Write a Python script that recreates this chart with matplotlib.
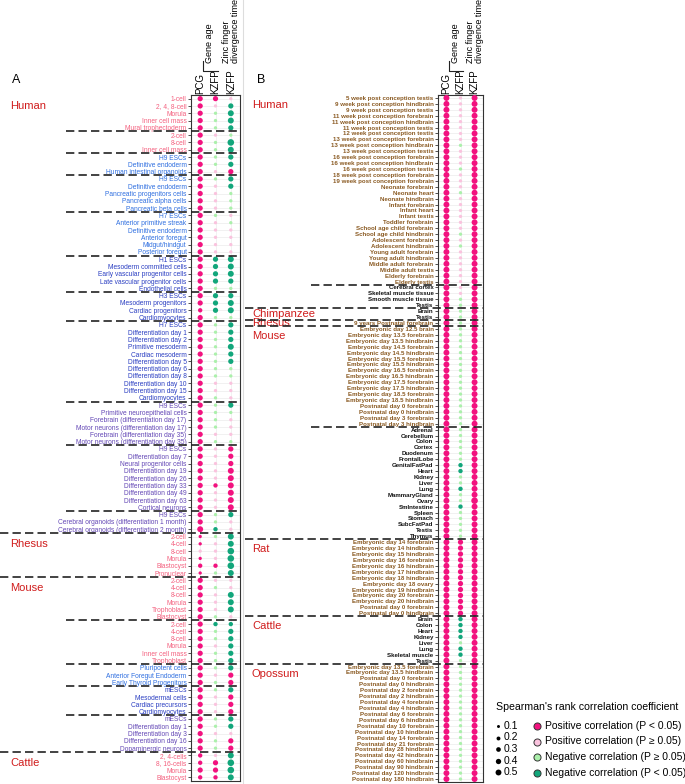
import numpy as np
import matplotlib
matplotlib.use('Agg')
import matplotlib.pyplot as plt

plt.rcParams['font.family'] = ['Liberation Sans', 'DejaVu Sans']

W, H = 685, 784

# correlation classes: P = positive P<0.05, p = positive P>=0.05,
# n = negative P>=0.05, N = negative P<0.05 ; rho digits are |rho| in tenths
class_colors = {'P': '#F2127F', 'p': '#FAC3DE', 'n': '#ABF0AB', 'N': '#12A67B'}
class_names = ['Positive correlation (P < 0.05)', 'Positive correlation (P \u2265 0.05)',
               'Negative correlation (P \u2265 0.05)', 'Negative correlation (P < 0.05)']
size_legend = [0.1, 0.2, 0.3, 0.4, 0.5]
columns = ['PCG', 'KZFP', 'KZFP']

label_palette = {'embryo': '#F4607F', 'endo': '#2F6FE0', 'meso': '#2B3FC2',
                 'neuro': '#6448B6', 'brown': '#8A5A22', 'black': '#111111'}

# ---------------- panel A ----------------
a_labels = [
    '1-cell', '2, 4, 8-cell', 'Morula', 'Inner cell mass', 'Mural trophectoderm',
    '2-cell', '8-cell', 'Inner cell mass',
    'H9 ESCs', 'Definitive endoderm', 'Human intestinal organoids',
    'H9 ESCs', 'Definitive endoderm', 'Pancreatic progenitors cells', 'Pancreatic alpha cells',
    'Pancreatic beta cells',
    'H7 ESCs', 'Anterior primitive streak', 'Definitive endoderm', 'Anterior foregut',
    'Midgut/hindgut', 'Posterior foregut',
    'H1 ESCs', 'Mesoderm committed cells', 'Early vascular progenitor cells',
    'Late vascular progenitor cells', 'Endothelial cells',
    'H3 ESCs', 'Mesoderm progenitors', 'Cardiac progenitors', 'Cardiomyocytes',
    'H7 ESCs', 'Differentiation day 1', 'Differentiation day 2', 'Primitive mesoderm',
    'Cardiac mesoderm', 'Differentiation day 5', 'Differentiation day 6', 'Differentiation day 8',
    'Differentiation day 10', 'Differentiation day 15', 'Cardiomyocytes',
    'H9 ESCs', 'Primitive neuroepithelial cells', 'Forebrain (differentiation day 17)',
    'Motor neurons (differentiation day 17)', 'Forebrain (differentiation day 35)',
    'Motor neurons (differentiation day 35)',
    'H9 ESCs', 'Differentiation day 7', 'Neural progenitor cells', 'Differentiation day 19',
    'Differentiation day 26', 'Differentiation day 33', 'Differentiation day 49',
    'Differentiation day 63', 'Cortical neurons',
    'H9 ESCs', 'Cerebral organoids (differentiation 1 month)',
    'Cerebral organoids (differentiation 2 month)',
    '2-cell', '4-cell', '8-cell', 'Morula', 'Blastocyst', 'Pronuclear',
    '2-cell', '4-cell', '8-cell', 'Morula', 'Trophoblast', 'Blastocyst',
    '2-cell', '4-cell', '8-cell', 'Morula', 'Inner cell mass', 'Trophoblast',
    'Pluripotent cells', 'Anterior Foregut Endoderm', 'Early Thyroid Progenitors',
    'mESCs', 'Mesodermal cells', 'Cardiac precursors', 'Cardiomyocytes',
    'mESCs', 'Differentiation day 1', 'Differentiation day 3', 'Differentiation day 16',
    'Dopaminergic neurons',
    '2, 4-cells', '8, 16-cells', 'Morula', 'Blastocyst',
]
a_group_sizes = [5, 3, 3, 5, 6, 5, 4, 11, 6, 9, 3, 6, 6, 6, 3, 4, 5, 4]
a_group_colors = ['embryo', 'embryo', 'endo', 'endo', 'endo', 'meso', 'meso', 'meso',
                  'neuro', 'neuro', 'neuro', 'embryo', 'embryo', 'embryo', 'endo', 'meso',
                  'neuro', 'embryo']
a_species = ['Human', 'Rhesus', 'Mouse', 'Cattle']
a_species_groups = [11, 1, 5, 1]

a_cls_pcg = ("PPPPP PPP PPP PPPPP PPPPPP PPPPP PPPP PPPPPPPP PPP PPPPPP PPPPPPPP P PPP "
             "PPpPPP PPPPPP PPPPPP PPP PPPP PPPPP PPPP")
a_rho_pcg = ("33333 333 333 33333 333333 33333 3323 33333333 333 333333 33333333 3 334 "
             "111121 333333 333333 333 3333 33333 2232")
a_cls_age = ("Ppnnn pnn nnp npppp nppppp NNNNn NNNn nnnnnnnn ppn nnnnpn pppppPpp p nnN "
             "npppPn pnpppn Nnnpnn npn nppp nnpnn pPPP")
a_rho_age = ("31111 111 111 11111 111111 33331 3331 11111111 111 111111 11111211 1 112 "
             "111121 111111 211111 111 1111 11111 1332")
a_cls_div = ("pNNNN nNN NNP NNnnn pnpppp NNNNn NNNn NNNNNNnn ppp Nnpppn PPPPPPPP P Npp "
             "NNNNNN ppNNNp NNNNNN NPP NPPP NNpPP NNNN")
a_rho_div = ("13443 154 333 33111 111111 44431 3441 33343311 111 311111 33344444 4 311 "
             "445554 114441 233333 333 3333 33133 4554")

# ---------------- panel B ----------------
b_labels = [
    '5 week post conception testis', '9 week post conception hindbrain',
    '9 week post conception testis', '11 week post conception forebrain',
    '11 week post conception hindbrain', '11 week post conception testis',
    '12 week post conception testis', '13 week post conception forebrain',
    '13 week post conception hindbrain', '13 week post conception testis',
    '16 week post conception forebrain', '16 week post conception hindbrain',
    '16 week post conception testis', '18 week post conception forebrain',
    '19 week post conception forebrain', 'Neonate forebrain', 'Neonate heart',
    'Neonate hindbrain', 'Infant forebrain', 'Infant heart', 'Infant testis',
    'Toddler forebrain', 'School age child forebrain', 'School age child hindbrain',
    'Adolescent forebrain', 'Adolescent hindbrain', 'Young adult forebrain',
    'Young adult hindbrain', 'Middle adult forebrain', 'Middle adult testis',
    'Elderly forebrain', 'Elderly testis',
    'Cerebral cortex', 'Skeletal muscle tissue', 'Smooth muscle tissue', 'Testis',
    'Brain', 'Testis',
    '9 years Postnatal forebrain',
    'Embryonic day 12.5 brain', 'Embryonic day 13.5 forebrain', 'Embryonic day 13.5 hindbrain',
    'Embryonic day 14.5 forebrain', 'Embryonic day 14.5 hindbrain',
    'Embryonic day 15.5 forebrain', 'Embryonic day 15.5 hindbrain',
    'Embryonic day 16.5 forebrain', 'Embryonic day 16.5 hindbrain',
    'Embryonic day 17.5 forebrain', 'Embryonic day 17.5 hindbrain',
    'Embryonic day 18.5 forebrain', 'Embryonic day 18.5 hindbrain',
    'Postnatal day 0 forebrain', 'Postnatal day 0 hindbrain', 'Postnatal day 3 forebrain',
    'Postnatal day 3 hindbrain',
    'Adrenal', 'Cerebellum', 'Colon', 'Cortex', 'Duodenum', 'FrontalLobe', 'GenitalFatPad',
    'Heart', 'Kidney', 'Liver', 'Lung', 'MammaryGland', 'Ovary', 'SmIntestine', 'Spleen',
    'Stomach', 'SubcFatPad', 'Testis', 'Thymus',
    'Embryonic day 14 forebrain', 'Embryonic day 14 hindbrain', 'Embryonic day 15 hindbrain',
    'Embryonic day 16 forebrain', 'Embryonic day 16 hindbrain', 'Embryonic day 17 hindbrain',
    'Embryonic day 18 hindbrain', 'Embryonic day 18 ovary', 'Embryonic day 19 hindbrain',
    'Embryonic day 20 forebrain', 'Embryonic day 20 hindbrain', 'Postnatal day 0 forebrain',
    'Postnatal day 0 hindbrain',
    'Brain', 'Colon', 'Heart', 'Kidney', 'Liver', 'Lung', 'Skeletal muscle', 'Testis',
    'Embryonic day 13.5 forebrain', 'Embryonic day 13.5 hindbrain', 'Postnatal day 0 forebrain',
    'Postnatal day 0 hindbrain', 'Postnatal day 2 forebrain', 'Postnatal day 2 hindbrain',
    'Postnatal day 4 forebrain', 'Postnatal day 4 hindbrain', 'Postnatal day 6 forebrain',
    'Postnatal day 6 hindbrain', 'Postnatal day 10 forebrain', 'Postnatal day 10 hindbrain',
    'Postnatal day 14 forebrain', 'Postnatal day 21 forebrain', 'Postnatal day 28 hindbrain',
    'Postnatal day 42 hindbrain', 'Postnatal day 60 hindbrain', 'Postnatal day 90 hindbrain',
    'Postnatal day 120 hindbrain', 'Postnatal day 180 hindbrain',
]
b_group_sizes = [32, 4, 2, 1, 17, 19, 13, 8, 20]
b_group_colors = ['brown', 'black', 'black', 'brown', 'brown', 'black', 'brown', 'black', 'brown']
b_species = ['Human', 'Chimpanzee', 'Rhesus', 'Mouse', 'Rat', 'Cattle', 'Opossum']
b_species_groups = [2, 1, 1, 2, 1, 1, 1]

b_cls_pcg = ("PPPPPPPP PPPPPPPP PPPPPPPP PPPPPPPP PPPP PP P PPPPPPPP PPPPPPPP P "
             "PPPPPPPP PPPPPPPP PPP PPPPPPPP PPPPP PPPPPPPP PPPPPPPP PPPPPPPP PPPP")
b_rho_pcg = ("44444444 44444444 44444444 44444444 4444 44 4 44444444 44444444 4 "
             "44444444 44444444 444 44444444 44444 44444444 44444444 44444444 4444")
b_cls_age = ("pppppppp npppnppp nppppppn pnpppppp ppnn nn n nnnnnnnn nnnnnnnn n "
             "nnnnnnNN nnNnnNnn nnn PPPPPPPP PPPPP NNNNnNNn nnnnnnnn nnnnnnnn nnnn")
b_rho_age = ("11111111 11111111 11111111 11111111 1111 11 1 11111111 11111111 1 "
             "11111122 11211211 111 33333333 33333 22221221 11111111 11111111 1111")
b_cls_div = ("PPPPPPPP PPPPPPPP PPPPPPPP PPPPPPPP PPPP PP P PPPPPPPP PPPPPPPP P "
             "PPPPPPPP PPPPPPPP PPP PPPPPPPP PPPPP PPPPPPPP PPPPPPPP PPPPPPPP PPPP")
b_rho_div = ("44444444 44444444 44444444 44444444 4444 44 4 44444444 44444444 4 "
             "44444444 44445444 444 44444444 44444 44444444 44444444 44444444 4444")


def clean(s):
    return s.replace(' ', '')


def dot_size(r):
    return 42 * r + 1.5


fig = plt.figure(figsize=(W / 100, H / 100), dpi=100)


def add_panel(left, right, top, bottom):
    return fig.add_axes([left / W, 1 - bottom / H, (right - left) / W, (bottom - top) / H])


def draw_panel(ax, labels, group_sizes, group_colors, cls_cols, rho_cols, fs, fw):
    n = len(labels)
    rows = np.arange(n)
    lab_cols = []
    for gs, gc in zip(group_sizes, group_colors):
        lab_cols += [label_palette[gc]] * gs
    ax.set_xlim(-0.6, 2.6)
    ax.set_ylim(n - 0.5, -0.5)
    ax.set_xticks([0, 1, 2])
    ax.set_xticklabels([])
    ax.set_yticks(rows)
    ax.set_yticklabels(labels, fontsize=fs, fontweight=fw)
    for t, c in zip(ax.get_yticklabels(), lab_cols):
        t.set_color(c)
    ax.tick_params(axis='x', length=0)
    ax.tick_params(axis='y', length=2.2, width=0.6, pad=1, color='#333333')
    ax.grid(True, color='#EBEBEB', lw=0.5)
    ax.set_axisbelow(True)
    for s in ax.spines.values():
        s.set_color('#333333')
        s.set_linewidth(0.8)
    for j, (cls, rho) in enumerate(zip(cls_cols, rho_cols)):
        cls = clean(cls)
        rho = clean(rho)
        assert len(cls) == n and len(rho) == n, (j, len(cls), len(rho), n)
        ax.scatter([j] * n, rows, s=[dot_size(int(d) / 10) for d in rho],
                   c=[class_colors[c] for c in cls], linewidths=0, zorder=3)


axA = add_panel(191, 240, 95, 781)
draw_panel(axA, a_labels, a_group_sizes, a_group_colors,
           [a_cls_pcg, a_cls_age, a_cls_div], [a_rho_pcg, a_rho_age, a_rho_div], 4.8, 'normal')
axB = add_panel(438, 483, 95, 782)
draw_panel(axB, b_labels, b_group_sizes, b_group_colors,
           [b_cls_pcg, b_cls_age, b_cls_div], [b_rho_pcg, b_rho_age, b_rho_div], 4.4, 'bold')

# overlay in pixel coordinates for annotations
ov = fig.add_axes([0, 0, 1, 1], zorder=5)
ov.set_xlim(0, W)
ov.set_ylim(H, 0)
ov.axis('off')


def row_px(ax, r):
    return H - ax.transData.transform((0, r))[1]


def col_px(ax, c):
    return ax.transData.transform((c, 0))[0]


def separators(ax, group_sizes, species_groups, x_group, x_species):
    x_right = ax.get_position().x1 * W
    bounds = np.cumsum(group_sizes)
    species_ends = set(np.cumsum(species_groups))
    for gi, b in enumerate(bounds[:-1]):
        y = row_px(ax, b - 0.5)
        x0 = x_species if (gi + 1) in species_ends else x_group
        ov.plot([x0, x_right], [y, y], ls=(0, (5, 2.5)), lw=1.2, color='#222222',
                clip_on=False, zorder=6)


def species_labels(ax, species, species_groups, group_sizes, x, off):
    start = 0
    g = 0
    for name, ng in zip(species, species_groups):
        nrows = sum(group_sizes[g:g + ng])
        r = start + min(off, (nrows - 1) / 2)
        ov.text(x, row_px(ax, r), name, color='#D01C1C', fontsize=8, va='center', ha='left')
        start += nrows
        g += ng


def headers(ax):
    top = (1 - ax.get_position().y1) * H
    cx = [col_px(ax, j) for j in range(3)]
    for x, name in zip(cx, columns):
        ov.text(x, top - 1, name, rotation=90, rotation_mode='anchor', ha='left',
                va='center', fontsize=7)
    ov.text((cx[0] + cx[1]) / 2 + 2, top - 32, 'Gene age', rotation=90,
            rotation_mode='anchor', ha='left', va='center', fontsize=6.5)
    ov.text(cx[2], top - 32, 'Zinc finger\ndivergence time', rotation=90,
            rotation_mode='anchor', ha='left', va='center', fontsize=6.5,
            multialignment='left', linespacing=1.0)
    xb = cx[0] + 2.5
    ov.plot([xb, xb, cx[1] + 3], [top - 34, top - 24, top - 24], color='#222222', lw=0.8)


separators(axA, a_group_sizes, a_species_groups, 66, 0)
separators(axB, b_group_sizes, b_species_groups, 311, 245)
species_labels(axA, a_species, a_species_groups, a_group_sizes, 10, 1.0)
species_labels(axB, b_species, b_species_groups, b_group_sizes, 252, 1.2)
headers(axA)
headers(axB)

ov.plot([243, 243], [0, H], color='#DDDDDD', lw=0.8)
ov.text(12, 80, 'A', fontsize=9, va='center')
ov.text(257, 80, 'B', fontsize=9, va='center')

# legend
ov.text(496, 707, "Spearman's rank correlation coefficient", fontsize=7.6, va='center')
for i, v in enumerate(size_legend):
    y = 726 + i * 11.5
    ov.scatter(498, y, s=dot_size(v) * 0.8, c='black', linewidths=0)
    ov.text(504, y, f'{v:.1f}', fontsize=7.5, va='center')
for i, (key, name) in enumerate(zip('PpnN', class_names)):
    y = 726 + i * 15.5
    ov.scatter(537, y, s=26, c=class_colors[key], edgecolors='#333333', linewidths=0.7)
    ov.text(545, y, name, fontsize=7.5, va='center')

fig.savefig('out.png', dpi=100)
